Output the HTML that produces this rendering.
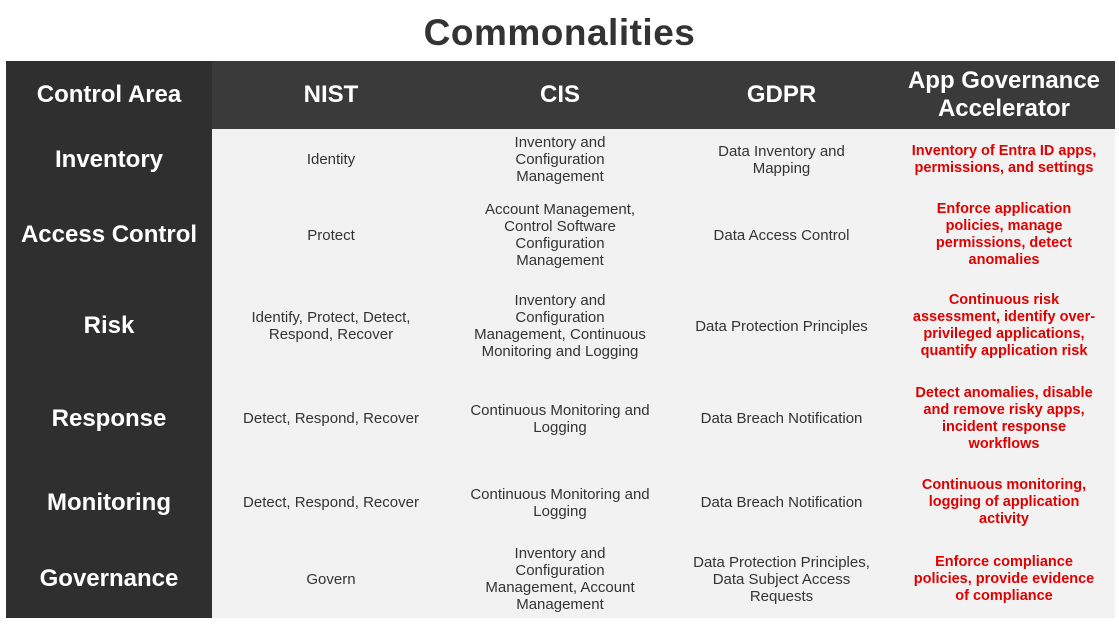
<!DOCTYPE html>
<html><head><meta charset="utf-8">
<style>
body{margin:0;width:1119px;height:629px;background:#fff;font-family:"Liberation Sans",sans-serif;position:relative;overflow:hidden}
#title{position:absolute;left:0;top:12px;width:1119px;text-align:center;font-size:37px;font-weight:bold;color:#333;letter-spacing:0.5px}
#leftcol{position:absolute;left:6px;top:61px;width:206px;height:557px;background:#2f2f2f}
#head{position:absolute;left:212px;top:61px;width:903px;height:68px;background:#3a3a3a}
#body{position:absolute;left:212px;top:129px;width:903px;height:489px;background:#f2f2f2}
.c{position:absolute;display:flex;align-items:center;justify-content:center;text-align:center;box-sizing:border-box;padding:0 6px}
.h{color:#fff;font-weight:bold;font-size:24px;line-height:28px}
.t{color:#333;font-size:15px;line-height:17px}
.r{color:#e00000;font-weight:bold;font-size:14.5px;line-height:17px}
</style></head><body>
<div id="title">Commonalities</div>
<div id="leftcol"></div>
<div id="head"></div>
<div id="body"></div>
<div id="cells"></div>
<script>
const colX=[6,212,450,670,893,1115];
const rowY=[61,129,190,280,372,465,540,618];
const headers=["Control Area","NIST","CIS","GDPR","App Governance Accelerator"];
const rows=[
["Inventory","Identity","Inventory and Configuration Management","Data Inventory and Mapping","Inventory of Entra ID apps, permissions, and settings"],
["Access Control","Protect","Account Management, Control Software Configuration Management","Data Access Control","Enforce application policies, manage permissions, detect anomalies"],
["Risk","Identify, Protect, Detect, Respond, Recover","Inventory and Configuration Management, Continuous Monitoring and Logging","Data Protection Principles","Continuous risk assessment, identify over-privileged applications, quantify application risk"],
["Response","Detect, Respond, Recover","Continuous Monitoring and Logging","Data Breach Notification","Detect anomalies, disable and remove risky apps, incident response workflows"],
["Monitoring","Detect, Respond, Recover","Continuous Monitoring and Logging","Data Breach Notification","Continuous monitoring, logging of application activity"],
["Governance","Govern","Inventory and Configuration Management, Account Management","Data Protection Principles, Data Subject Access Requests","Enforce compliance policies, provide evidence of compliance"]
];
const pads=[6,8,20,22,16];
const host=document.getElementById('cells');
function cell(txt,ci,ri,cls,name){
 const d=document.createElement('div');
 d.className='c '+cls;
 d.style.left=colX[ci]+'px';d.style.width=(colX[ci+1]-colX[ci])+'px';
 d.style.top=rowY[ri]+'px';d.style.height=(rowY[ri+1]-rowY[ri])+'px';
 if(ri>0||ci===0){d.style.padding='0 '+pads[ci]+'px';}
 d.textContent=txt;
 
 
 host.appendChild(d);
}
headers.forEach((h,i)=>cell(h,i,0,'h','header-'+i));
rows.forEach((r,ri)=>r.forEach((t,ci)=>cell(t,ci,ri+1,ci===0?'h':(ci===4?'r':'t'),'cell-r'+ri+'-c'+ci)));
</script>
</body></html>
